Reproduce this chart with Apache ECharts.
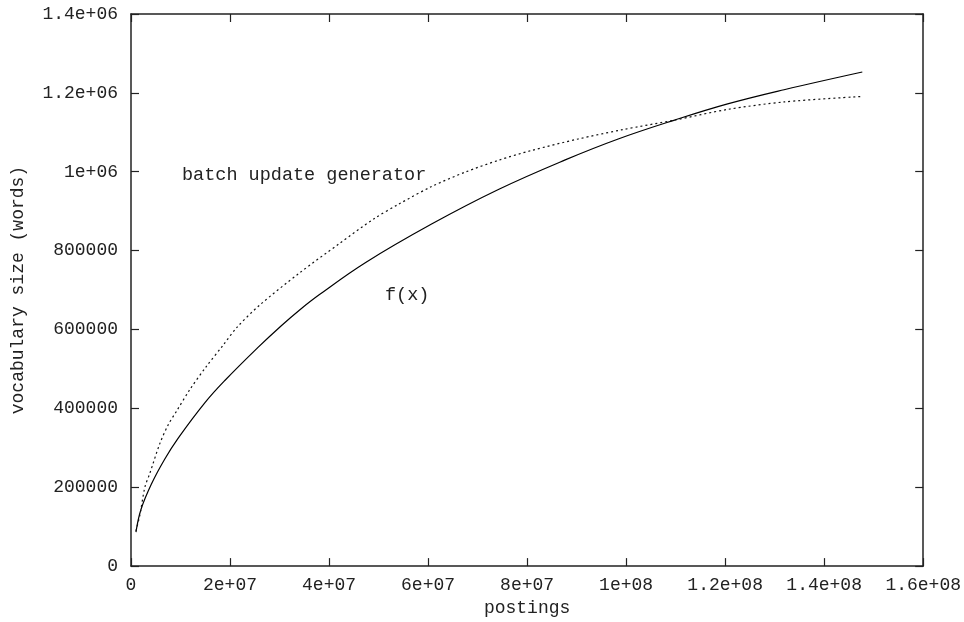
<!DOCTYPE html>
<html>
<head>
<meta charset="utf-8">
<script src="https://cdn.jsdelivr.net/npm/echarts@6/dist/echarts.min.js"></script>
<style>
  html, body { margin: 0; padding: 0; background: #fff; }
  #chart { width: 964px; height: 622px; }
</style>
</head>
<body>
<div id="chart"></div>
<script>
// f(x) fitted curve (solid)
const fitPostings = [1.0e6, 2.0e6, 4.2e6, 6.8e6, 9.5e6, 14.9e6, 18.9e6, 25.6e6, 30.3e6, 34.0e6,
  38.0e6, 47.4e6, 60.8e6, 74.2e6, 87.7e6, 98.4e6, 109.8e6, 120.5e6, 131.9e6, 147.7e6];
const fitWords = [86000, 143000, 210000, 271000, 324000, 414000, 470000, 554000, 609000, 649000,
  688000, 770000, 868000, 955000, 1030000, 1083000, 1131000, 1172000, 1208000, 1253000];

// batch update generator (dotted)
const batchPostings = [1.0e6, 1.8e6, 2.8e6, 3.8e6, 5.8e6, 7.5e6, 9.2e6, 11.9e6, 15.2e6, 18.6e6,
  21.3e6, 26.0e6, 34.0e6, 42.1e6, 49.1e6, 54.1e6, 60.8e6, 67.5e6, 74.2e6, 80.9e6,
  90.3e6, 99.0e6, 109.8e6, 120.5e6, 131.9e6, 147.7e6];
const batchWords = [89000, 130000, 200000, 235000, 310000, 358000, 393000, 448000, 506000, 560000,
  604000, 662000, 743000, 818000, 881000, 918000, 963000, 999000, 1029000, 1054000,
  1083000, 1106000, 1131000, 1158000, 1177000, 1191000];

const xTickLabels = ["0", "2e+07", "4e+07", "6e+07", "8e+07", "1e+08", "1.2e+08", "1.4e+08", "1.6e+08"];
const yTickLabels = ["0", "200000", "400000", "600000", "800000", "1e+06", "1.2e+06", "1.4e+06"];

const X_STEP = 2e7;
const Y_STEP = 2e5;
const FONT = "'Liberation Mono', 'DejaVu Sans Mono', monospace";
const INK = "#222";

const chart = echarts.init(document.getElementById("chart"), null, { renderer: "canvas" });

const zip = (xs, ys) => xs.map((x, i) => [x, ys[i]]);

const axisLine = { show: true, onZero: false, lineStyle: { color: INK, width: 1.5 } };
const tick = { show: true, inside: true, length: 8, lineStyle: { color: INK, width: 1.2 } };

const option = {
  animation: false,
  backgroundColor: "#fff",
  grid: { left: 131, right: 38, top: 14, bottom: 48, containLabel: false },
  xAxis: [
    {
      type: "value",
      min: 0,
      max: 1.6e8,
      interval: X_STEP,
      name: "postings",
      nameLocation: "middle",
      nameGap: 30,
      nameTextStyle: { fontFamily: FONT, fontSize: 18, color: INK },
      axisLine: axisLine,
      axisTick: tick,
      splitLine: { show: false },
      axisLabel: {
        fontFamily: FONT,
        fontSize: 18,
        color: INK,
        margin: 10,
        formatter: (v) => xTickLabels[Math.round(v / X_STEP)]
      }
    },
    {
      type: "value",
      position: "top",
      min: 0,
      max: 1.6e8,
      interval: X_STEP,
      axisLine: axisLine,
      axisTick: tick,
      splitLine: { show: false },
      axisLabel: { show: false }
    }
  ],
  yAxis: [
    {
      type: "value",
      min: 0,
      max: 1.4e6,
      interval: Y_STEP,
      name: "vocabulary size (words)",
      nameLocation: "middle",
      nameGap: 104,
      nameRotate: 90,
      nameTextStyle: { fontFamily: FONT, fontSize: 18, color: INK },
      axisLine: axisLine,
      axisTick: tick,
      splitLine: { show: false },
      axisLabel: {
        fontFamily: FONT,
        fontSize: 18,
        color: INK,
        margin: 13,
        formatter: (v) => yTickLabels[Math.round(v / Y_STEP)]
      }
    },
    {
      type: "value",
      position: "right",
      min: 0,
      max: 1.4e6,
      interval: Y_STEP,
      axisLine: axisLine,
      axisTick: tick,
      splitLine: { show: false },
      axisLabel: { show: false }
    }
  ],
  series: [
    {
      name: "f(x)",
      type: "line",
      data: zip(fitPostings, fitWords),
      smooth: 0.4,
      showSymbol: false,
      lineStyle: { color: "#000", width: 1.2 }
    },
    {
      name: "batch update generator",
      type: "line",
      data: zip(batchPostings, batchWords),
      smooth: 0.3,
      showSymbol: false,
      lineStyle: { color: "#111", width: 1.2, type: [2, 3] }
    }
  ],
  graphic: [
    {
      type: "text",
      left: 182,
      top: 166,
      style: { text: "batch update generator", font: "18.5px " + FONT, fill: INK }
    },
    {
      type: "text",
      left: 385,
      top: 286,
      style: { text: "f(x)", font: "18.5px " + FONT, fill: INK }
    }
  ]
};

chart.setOption(option);
window.addEventListener("resize", () => chart.resize());
</script>
</body>
</html>
